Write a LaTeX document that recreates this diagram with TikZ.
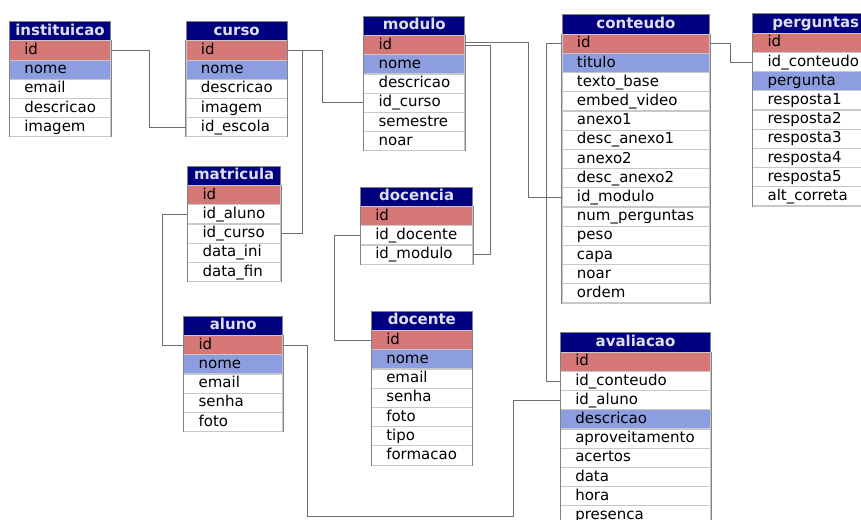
\documentclass[tikz,border=0pt]{standalone}
\usepackage{fontspec}
\setmainfont{DejaVu Sans}
\definecolor{headblue}{RGB}{0,0,128}
\definecolor{headtext}{RGB}{222,222,236}
\definecolor{keyred}{RGB}{214,120,120}
\definecolor{keyblue}{RGB}{141,158,224}
\definecolor{rowline}{RGB}{200,200,200}
\definecolor{edgegray}{RGB}{130,130,130}
\definecolor{linkgray}{RGB}{110,110,110}

\tikzset{
  dbhead/.style={rectangle, fill=headblue, draw=edgegray, line width=0.75pt,
    text=headtext, font=\fontsize{11.25}{13}\selectfont\bfseries,
    text height=8.5pt, text depth=2.5pt,
    minimum height=14.55pt, inner sep=0pt, anchor=north west},
  dbrow/.style={rectangle, draw=rowline, line width=0.8pt,
    minimum height=14.4pt, inner sep=0pt, anchor=north west},
  dbtext/.style={anchor=west, inner xsep=11.25pt, inner ysep=0pt,
    font=\fontsize{11.25}{13}\selectfont, text height=8.5pt, text depth=2.5pt},
  dbedge/.style={draw=edgegray, line width=0.75pt},
  fk/.style={draw=linkgray, line width=0.75pt},
}

% name, x, y, width (px), title, rows
\newcommand{\dbtable}[6]{%
  \node[dbhead, minimum width={#4*0.75pt}] (#1) at (#2,#3) {#5};
  \foreach \field/\shade [count=\i] in {#6}{
    \node[dbrow, fill=\shade, minimum width={#4*0.75pt},
      label={[dbtext]west:\field}] (#1-\i) at (#2,{#3+19.4+19.2*(\i-1)}) {};
    \draw[dbedge] (#1-\i.north west) -- (#1-\i.south west)
      (#1-\i.north east) -- (#1-\i.south east);
  }
}

\begin{document}
\begin{tikzpicture}[x=0.75pt, y=-0.75pt]
  \clip (0,0) rectangle (861,520);

  % tables
  \dbtable{instituicao}{9}{21}{101}{instituicao}
    {id/keyred, nome/keyblue, email/white, descricao/white, imagem/white}
  \dbtable{curso}{185.7}{21}{101}{curso}
    {id/keyred, nome/keyblue, descricao/white, imagem/white, id\_escola/white}
  \dbtable{modulo}{363.3}{15.7}{101}{modulo}
    {id/keyred, nome/keyblue, descricao/white, id\_curso/white, semestre/white, noar/white}
  \dbtable{matricula}{187.3}{165.7}{92.7}{matricula}
    {id/keyred, id\_aluno/white, id\_curso/white, data\_ini/white, data\_fin/white}
  \dbtable{docencia}{360}{186.7}{112.3}{docencia}
    {id/keyred, id\_docente/white, id\_modulo/white}
  \dbtable{aluno}{183.3}{315.7}{99}{aluno}
    {id/keyred, nome/keyblue, email/white, senha/white, foto/white}
  \dbtable{docente}{371}{310.7}{100.7}{docente}
    {id/keyred, nome/keyblue, email/white, senha/white, foto/white, tipo/white, formacao/white}
  \dbtable{conteudo}{561.7}{14.3}{147.3}{conteudo}
    {id/keyred, titulo/keyblue, texto\_base/white, embed\_video/white, anexo1/white,
     desc\_anexo1/white, anexo2/white, desc\_anexo2/white, id\_modulo/white,
     num\_perguntas/white, peso/white, capa/white, noar/white, ordem/white}
  \dbtable{perguntas}{752.3}{13.3}{126}{perguntas}
    {id/keyred, id\_conteudo/white, pergunta/keyblue, resposta1/white, resposta2/white,
     resposta3/white, resposta4/white, resposta5/white, alt\_correta/white}
  \dbtable{avaliacao}{560}{332.3}{150}{avaliacao}
    {id/keyred, id\_conteudo/white, id\_aluno/white, descricao/keyblue,
     aproveitamento/white, acertos/white, data/white, hora/white, presenca/white}

  % foreign keys
  \draw[fk] (instituicao-1.east) -- ++(38,0) |- (curso-5.west);
  \draw[fk] (curso-1.east) -- ++(14.3,0) |- (matricula-3.east);
  \draw[fk] (curso-1.east) -- ++(34.3,0) |- (modulo-4.west);
  \draw[fk] (modulo-1.east) -- ++(24.7,0) |- (docencia-3.east);
  \draw[fk] ([yshift=2.25pt]modulo-1.east) -- ++(63.4,0) |- (conteudo-9.west);
  \draw[fk] (conteudo-1.west) -- ++(-15,0) |- (avaliacao-2.west);
  \draw[fk] (conteudo-1.east) -- ++(20,0) |- (perguntas-2.west);
  \draw[fk] (matricula-2.west) -- ++(-25.3,0) |- (aluno-1.west);
  \draw[fk] (docencia-2.west) -- ++(-25.7,0) |- (docente-1.west);
  \coordinate (detour) at (513.3,516.7);
  \draw[fk] (aluno-1.east) -- ++(24.4,0) |- (detour) |- (avaliacao-3.west);
\end{tikzpicture}
\end{document}
